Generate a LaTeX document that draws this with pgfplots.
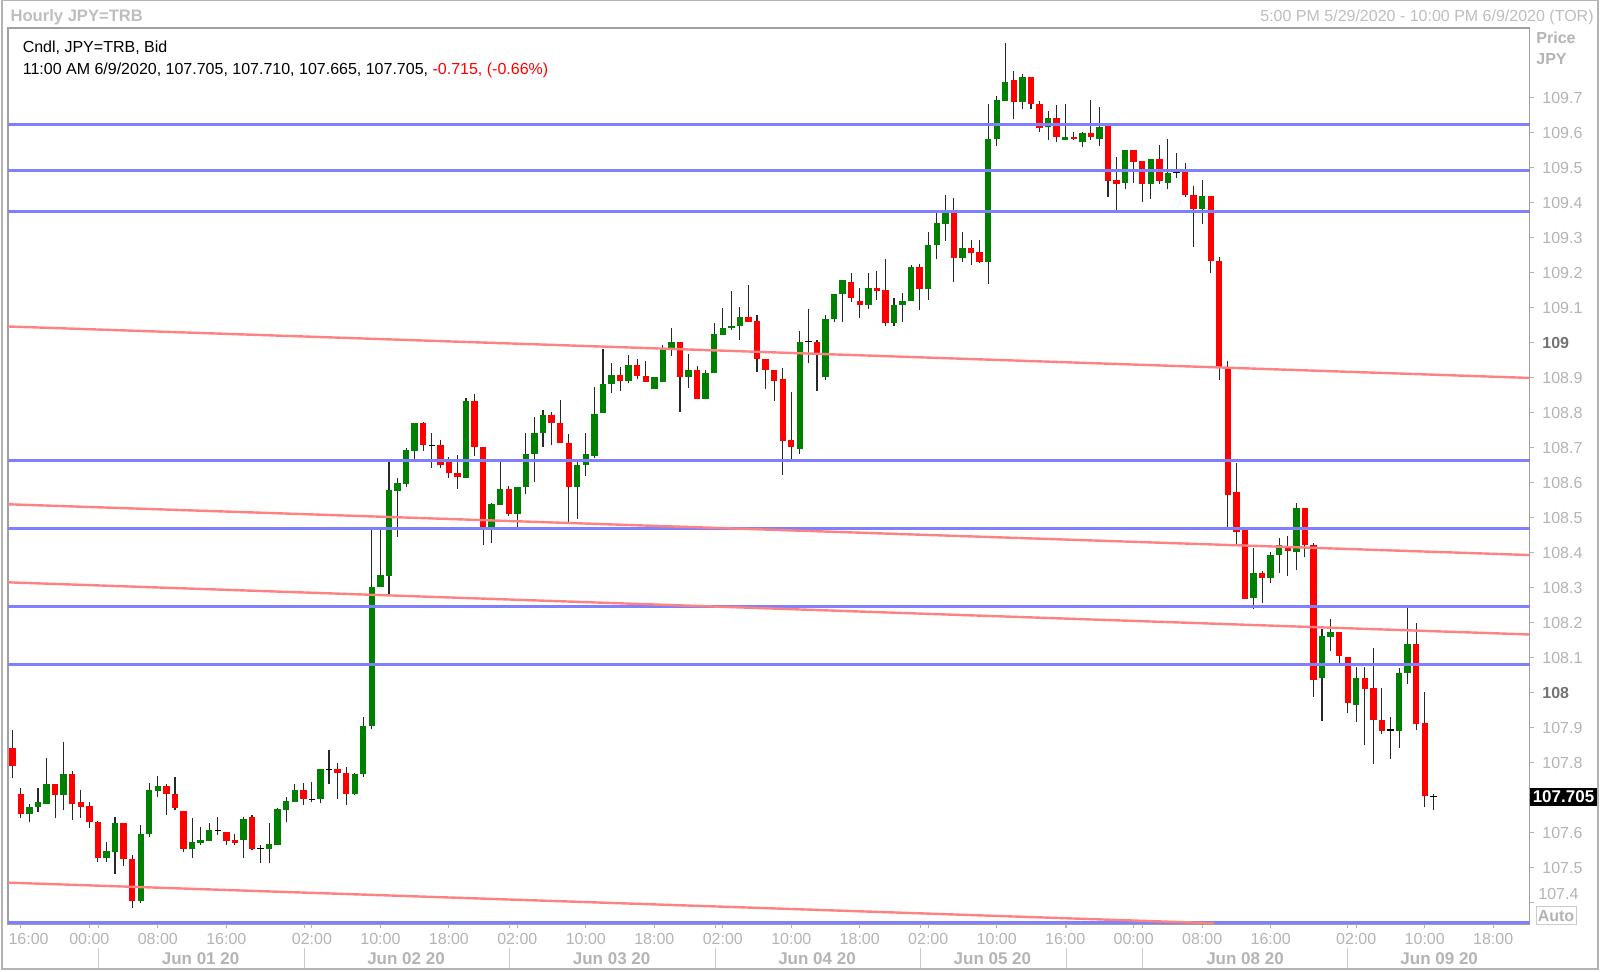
\documentclass[border=0pt]{standalone}
\usepackage{pgfplots}
\pgfplotsset{compat=1.18}
\usepackage{fontspec}
\setmainfont{Liberation Sans}
\definecolor{cgreen}{RGB}{0,128,0}
\definecolor{cred}{RGB}{255,0,0}
\definecolor{wick}{RGB}{40,40,40}
\definecolor{hblue}{RGB}{128,128,255}
\definecolor{hred}{RGB}{255,130,130}
\definecolor{lbl}{RGB}{180,180,180}
\definecolor{lbldark}{RGB}{115,115,115}
\definecolor{framec}{RGB}{160,160,160}
\definecolor{titlegray}{RGB}{190,190,190}

\begin{document}
\begin{tikzpicture}
\useasboundingbox (0pt,0pt) rectangle (800pt,486pt);
\fill[white] (0pt,0pt) rectangle (800pt,486pt);
\draw[framec!80, line width=0.6pt] (1pt,1.5pt) rectangle (799pt,485.7pt);

\begin{axis}[
  at={(4.1pt,23.85pt)}, anchor=south west,
  width=760.65pt, height=448pt, scale only axis,
  xmin=-0.48, xmax=177.24, ymin=107.339, ymax=109.899,
  clip=false,
  unbounded coords=jump,
  axis line style={draw=framec, line width=0.8pt},
  xtick={1,9,17,25,35,43,51,59,67,75,83,91,99,107,115,123,131,139,147,157,165,173},
  xticklabels={\hspace*{7.7pt}16:00,00:00,08:00,16:00,02:00,10:00,18:00,02:00,10:00,18:00,02:00,10:00,18:00,02:00,10:00,16:00,00:00,08:00,16:00,02:00,10:00,18:00},
  extra x ticks={10.1,34.1,58.1,82.1,106.1,123.1,132.0,156.0},
  extra x tick labels={},
  xtick pos=left,
  xtick style={draw=lbl, line width=0.5pt},
  xticklabel style={font=\fontsize{8}{9}\selectfont, text=lbl, anchor=base, inner sep=0pt, yshift=-8.3pt},
  ytick={107.4,107.5,107.6,107.7,107.8,107.9,108,108.1,108.2,108.3,108.4,108.5,108.6,108.7,108.8,108.9,109,109.1,109.2,109.3,109.4,109.5,109.6,109.7},
  yticklabels={{},107.5,107.6,{},107.8,107.9,{\color{lbldark}\bfseries 108},108.1,108.2,108.3,108.4,108.5,108.6,108.7,108.8,108.9,{\color{lbldark}\bfseries 109},109.1,109.2,109.3,109.4,109.5,109.6,109.7},
  ytick pos=right, yticklabel pos=right,
  tick align=outside, major tick length=2pt,
  ytick style={draw=lbl, line width=0.5pt},
  yticklabel style={font=\fontsize{8}{9}\selectfont, text=lbl, anchor=west, inner sep=0pt, xshift=4.25pt},
]
% ---- wicks: (bar, low) (bar, high) per candle
\addplot[wick, line width=0.55pt, mark=none] coordinates {
(0,107.756)(0,107.894)(0,nan) (1,107.642)(1,107.727)(1,nan) (2,107.630)(2,107.682)(2,nan)
(3,107.661)(3,107.727)(3,nan) (4,107.684)(4,107.813)(4,nan) (5,107.644)(5,107.739)(5,nan)
(6,107.665)(6,107.859)(6,nan) (7,107.636)(7,107.777)(7,nan) (8,107.644)(8,107.722)(8,nan)
(9,107.613)(9,107.687)(9,nan) (10,107.518)(10,107.634)(10,nan) (11,107.518)(11,107.573)(11,nan)
(12,107.483)(12,107.646)(12,nan) (13,107.506)(13,107.627)(13,nan) (14,107.386)(14,107.537)(14,nan)
(15,107.399)(15,107.623)(15,nan) (16,107.589)(16,107.742)(16,nan) (17,107.702)(17,107.762)(17,nan)
(18,107.651)(18,107.739)(18,nan) (19,107.665)(19,107.759)(19,nan) (20,107.546)(20,107.662)(20,nan)
(21,107.529)(21,107.644)(21,nan) (22,107.565)(22,107.618)(22,nan) (23,107.576)(23,107.627)(23,nan)
(24,107.594)(24,107.646)(24,nan) (25,107.565)(25,107.604)(25,nan) (26,107.565)(26,107.597)(26,nan)
(27,107.529)(27,107.646)(27,nan) (28,107.551)(28,107.651)(28,nan) (29,107.513)(29,107.565)(29,nan)
(30,107.513)(30,107.627)(30,nan) (31,107.565)(31,107.670)(31,nan) (32,107.630)(32,107.702)(32,nan)
(33,107.689)(33,107.740)(33,nan) (34,107.680)(34,107.742)(34,nan) (35,107.689)(35,107.745)(35,nan)
(36,107.685)(36,107.782)(36,nan) (37,107.740)(37,107.837)(37,nan) (38,107.696)(38,107.799)(38,nan)
(39,107.680)(39,107.789)(39,nan) (40,107.708)(40,107.770)(40,nan) (41,107.761)(41,107.932)(41,nan)
(42,107.896)(42,108.465)(42,nan) (43,108.304)(43,108.465)(43,nan) (44,108.283)(44,108.664)(44,nan)
(45,108.446)(45,108.615)(45,nan) (46,108.587)(46,108.699)(46,nan) (47,108.668)(47,108.770)(47,nan)
(48,108.692)(48,108.775)(48,nan) (49,108.642)(49,108.744)(49,nan) (50,108.642)(50,108.723)(50,nan)
(51,108.613)(51,108.673)(51,nan) (52,108.583)(52,108.680)(52,nan) (53,108.613)(53,108.842)(53,nan)
(54,108.677)(54,108.854)(54,nan) (55,108.423)(55,108.704)(55,nan) (56,108.427)(56,108.543)(56,nan)
(57,108.537)(57,108.663)(57,nan) (58,108.505)(58,108.591)(58,nan) (59,108.475)(59,108.589)(59,nan)
(60,108.567)(60,108.742)(60,nan) (61,108.604)(61,108.789)(61,nan) (62,108.704)(62,108.808)(62,nan)
(63,108.708)(63,108.804)(63,nan) (64,108.715)(64,108.837)(64,nan) (65,108.489)(65,108.740)(65,nan)
(66,108.496)(66,108.661)(66,nan) (67,108.621)(67,108.744)(67,nan) (68,108.670)(68,108.873)(68,nan)
(69,108.799)(69,108.984)(69,nan) (70,108.858)(70,108.943)(70,nan) (71,108.864)(71,108.930)(71,nan)
(72,108.886)(72,108.965)(72,nan) (73,108.897)(73,108.954)(73,nan) (74,108.887)(74,108.949)(74,nan)
(75,108.868)(75,108.903)(75,nan) (76,108.887)(76,108.994)(76,nan) (77,108.963)(77,109.044)(77,nan)
(78,108.802)(78,109.004)(78,nan) (79,108.870)(79,108.968)(79,nan) (80,108.839)(80,108.934)(80,nan)
(81,108.839)(81,108.924)(81,nan) (82,108.913)(82,109.056)(82,nan) (83,109.024)(83,109.099)(83,nan)
(84,109.037)(84,109.149)(84,nan) (85,109.008)(85,109.104)(85,nan) (86,109.061)(86,109.165)(86,nan)
(87,108.918)(87,109.080)(87,nan) (88,108.868)(88,108.953)(88,nan) (89,108.834)(89,108.924)(89,nan)
(90,108.623)(90,108.927)(90,nan) (91,108.665)(91,108.859)(91,nan) (92,108.684)(92,109.035)(92,nan)
(93,108.942)(93,109.096)(93,nan) (94,108.863)(94,109.008)(94,nan) (95,108.893)(95,109.080)(95,nan)
(96,109.061)(96,109.140)(96,nan) (97,109.061)(97,109.180)(97,nan) (98,109.118)(98,109.199)(98,nan)
(99,109.072)(99,109.156)(99,nan) (100,109.096)(100,109.199)(100,nan) (101,109.123)(101,109.205)(101,nan)
(102,109.048)(102,109.240)(102,nan) (103,109.048)(103,109.129)(103,nan) (104,109.061)(104,109.144)(104,nan)
(105,109.120)(105,109.223)(105,nan) (106,109.094)(106,109.225)(106,nan) (107,109.124)(107,109.316)(107,nan)
(108,109.239)(108,109.372)(108,nan) (109,109.292)(109,109.424)(109,nan) (110,109.173)(110,109.413)(110,nan)
(111,109.232)(111,109.316)(111,nan) (112,109.223)(112,109.294)(112,nan) (113,109.227)(113,109.294)(113,nan)
(114,109.167)(114,109.682)(114,nan) (115,109.563)(115,109.705)(115,nan) (116,109.692)(116,109.856)(116,nan)
(117,109.639)(117,109.777)(117,nan) (118,109.667)(118,109.767)(118,nan) (119,109.667)(119,109.759)(119,nan)
(120,109.603)(120,109.691)(120,nan) (121,109.580)(121,109.662)(121,nan) (122,109.573)(122,109.680)(122,nan)
(123,109.580)(123,109.684)(123,nan) (124,109.580)(124,109.604)(124,nan) (125,109.559)(125,109.604)(125,nan)
(126,109.580)(126,109.694)(126,nan) (127,109.564)(127,109.675)(127,nan) (128,109.418)(128,109.620)(128,nan)
(129,109.378)(129,109.530)(129,nan) (130,109.439)(130,109.551)(130,nan) (131,109.458)(131,109.551)(131,nan)
(132,109.403)(132,109.520)(132,nan) (133,109.410)(133,109.525)(133,nan) (134,109.453)(134,109.565)(134,nan)
(135,109.439)(135,109.584)(135,nan) (136,109.470)(136,109.544)(136,nan) (137,109.418)(137,109.515)(137,nan)
(138,109.273)(138,109.449)(138,nan) (139,109.339)(139,109.465)(139,nan) (140,109.199)(140,109.421)(140,nan)
(141,108.894)(141,109.246)(141,nan) (142,108.470)(142,108.949)(142,nan) (143,108.423)(143,108.658)(143,nan)
(144,108.267)(144,108.465)(144,nan) (145,108.239)(145,108.415)(145,nan) (146,108.256)(146,108.348)(146,nan)
(147,108.315)(147,108.402)(147,nan) (148,108.342)(148,108.443)(148,nan) (149,108.335)(149,108.448)(149,nan)
(150,108.351)(150,108.544)(150,nan) (151,108.387)(151,108.527)(151,nan) (152,107.989)(152,108.427)(152,nan)
(153,107.921)(153,108.182)(153,nan) (154,108.120)(154,108.210)(154,nan) (155,108.084)(155,108.173)(155,nan)
(156,107.942)(156,108.104)(156,nan) (157,107.916)(157,108.073)(157,nan) (158,107.851)(158,108.073)(158,nan)
(159,107.797)(159,108.127)(159,nan) (160,107.882)(160,108.013)(160,nan) (161,107.810)(161,107.930)(161,nan)
(162,107.842)(162,108.072)(162,nan) (163,108.025)(163,108.246)(163,nan) (164,107.894)(164,108.199)(164,nan)
(165,107.673)(165,108.002)(165,nan) (166,107.665)(166,107.710)(166,nan)
};
% ---- rising candles: (bar, open) (bar, close)
\addplot[cgreen, line width=3.2pt, line cap=butt, mark=none] coordinates {
(2,107.655)(2,107.675)(2,nan) (3,107.675)(3,107.687)(3,nan) (4,107.684)(4,107.739)(4,nan)
(6,107.708)(6,107.768)(6,nan) (11,107.529)(11,107.548)(11,nan) (12,107.546)(12,107.627)(12,nan)
(15,107.405)(15,107.597)(15,nan) (16,107.596)(16,107.722)(16,nan) (17,107.720)(17,107.734)(17,nan)
(21,107.553)(21,107.574)(21,nan) (22,107.572)(22,107.580)(22,nan) (23,107.576)(23,107.608)(23,nan)
(27,107.580)(27,107.639)(27,nan) (30,107.553)(30,107.567)(30,nan) (31,107.565)(31,107.667)(31,nan)
(32,107.665)(32,107.692)(32,nan) (33,107.689)(33,107.723)(33,nan) (36,107.696)(36,107.782)(36,nan)
(40,107.710)(40,107.768)(40,nan) (41,107.767)(41,107.906)(41,nan) (42,107.906)(42,108.304)(42,nan)
(43,108.304)(43,108.337)(43,nan) (44,108.335)(44,108.580)(44,nan) (45,108.578)(45,108.599)(45,nan)
(46,108.597)(46,108.694)(46,nan) (47,108.692)(47,108.770)(47,nan) (53,108.613)(53,108.835)(53,nan)
(56,108.475)(56,108.539)(56,nan) (57,108.537)(57,108.584)(57,nan) (59,108.510)(59,108.589)(59,nan)
(60,108.589)(60,108.684)(60,nan) (61,108.684)(61,108.744)(61,nan) (62,108.744)(62,108.794)(62,nan)
(66,108.587)(66,108.651)(66,nan) (67,108.651)(67,108.684)(67,nan) (68,108.677)(68,108.798)(68,nan)
(69,108.799)(69,108.883)(69,nan) (70,108.883)(70,108.908)(70,nan) (72,108.892)(72,108.937)(72,nan)
(75,108.868)(75,108.903)(75,nan) (76,108.887)(76,108.983)(76,nan) (77,108.983)(77,109.004)(77,nan)
(79,108.904)(79,108.924)(79,nan) (81,108.839)(81,108.913)(81,nan) (82,108.913)(82,109.025)(82,nan)
(83,109.024)(83,109.043)(83,nan) (84,109.043)(84,109.049)(84,nan) (85,109.048)(85,109.075)(85,nan)
(92,108.697)(92,109.004)(92,nan) (95,108.903)(95,109.067)(95,nan) (96,109.067)(96,109.140)(96,nan)
(97,109.140)(97,109.180)(97,nan) (100,109.108)(100,109.156)(100,nan) (103,109.058)(103,109.108)(103,nan)
(104,109.108)(104,109.120)(104,nan) (105,109.120)(105,109.216)(105,nan) (107,109.154)(107,109.280)(107,nan)
(108,109.280)(108,109.342)(108,nan) (109,109.340)(109,109.372)(109,nan) (111,109.244)(111,109.270)(111,nan)
(114,109.232)(114,109.584)(114,nan) (115,109.584)(115,109.694)(115,nan) (116,109.692)(116,109.746)(116,nan)
(118,109.689)(118,109.759)(118,nan) (121,109.616)(121,109.644)(121,nan) (123,109.580)(123,109.589)(123,nan)
(125,109.573)(125,109.599)(125,nan) (127,109.583)(127,109.618)(127,nan) (130,109.458)(130,109.551)(130,nan)
(133,109.453)(133,109.525)(133,nan) (135,109.458)(135,109.486)(135,nan) (139,109.383)(139,109.421)(139,nan)
(145,108.272)(145,108.343)(145,nan) (147,108.327)(147,108.394)(147,nan) (148,108.394)(148,108.424)(148,nan)
(150,108.402)(150,108.527)(150,nan) (153,108.042)(153,108.163)(153,nan) (154,108.161)(154,108.173)(154,nan)
(157,107.965)(157,108.042)(157,nan) (162,107.892)(162,108.056)(162,nan) (163,108.056)(163,108.139)(163,nan)
};
% ---- falling candles: (bar, open) (bar, close)
\addplot[cred, line width=3.2pt, line cap=butt, mark=none] coordinates {
(0,107.842)(0,107.791)(0,nan) (1,107.710)(1,107.655)(1,nan) (5,107.739)(5,107.708)(5,nan)
(7,107.768)(7,107.684)(7,nan) (8,107.687)(8,107.674)(8,nan) (9,107.677)(9,107.630)(9,nan)
(10,107.632)(10,107.529)(10,nan) (13,107.627)(13,107.525)(13,nan) (14,107.525)(14,107.405)(14,nan)
(18,107.734)(18,107.710)(18,nan) (19,107.712)(19,107.670)(19,nan) (20,107.662)(20,107.553)(20,nan)
(25,107.604)(25,107.577)(25,nan) (26,107.580)(26,107.572)(26,nan) (28,107.646)(28,107.553)(28,nan)
(34,107.723)(34,107.696)(34,nan) (38,107.782)(38,107.770)(38,nan) (39,107.772)(39,107.710)(39,nan)
(48,108.770)(48,108.708)(48,nan) (50,108.708)(50,108.651)(50,nan) (51,108.663)(51,108.627)(51,nan)
(52,108.627)(52,108.618)(52,nan) (54,108.835)(54,108.704)(54,nan) (55,108.704)(55,108.475)(55,nan)
(58,108.584)(58,108.510)(58,nan) (63,108.794)(63,108.770)(63,nan) (64,108.770)(64,108.715)(64,nan)
(65,108.715)(65,108.587)(65,nan) (71,108.908)(71,108.892)(71,nan) (73,108.937)(73,108.906)(73,nan)
(74,108.906)(74,108.887)(74,nan) (78,109.004)(78,108.904)(78,nan) (80,108.924)(80,108.839)(80,nan)
(86,109.075)(86,109.061)(86,nan) (87,109.064)(87,108.953)(87,nan) (88,108.953)(88,108.923)(88,nan)
(89,108.924)(89,108.892)(89,nan) (90,108.896)(90,108.721)(90,nan) (91,108.723)(91,108.702)(91,nan)
(94,109.004)(94,108.965)(94,nan) (98,109.175)(98,109.127)(98,nan) (99,109.120)(99,109.108)(99,nan)
(101,109.156)(101,109.149)(101,nan) (102,109.151)(102,109.058)(102,nan) (106,109.216)(106,109.154)(106,nan)
(110,109.372)(110,109.244)(110,nan) (112,109.270)(112,109.258)(112,nan) (113,109.259)(113,109.232)(113,nan)
(117,109.751)(117,109.689)(117,nan) (119,109.759)(119,109.684)(119,nan) (120,109.684)(120,109.613)(120,nan)
(122,109.644)(122,109.589)(122,nan) (124,109.589)(124,109.583)(124,nan) (126,109.599)(126,109.589)(126,nan)
(128,109.620)(128,109.463)(128,nan) (129,109.465)(129,109.453)(129,nan) (131,109.551)(131,109.518)(131,nan)
(132,109.520)(132,109.453)(132,nan) (134,109.525)(134,109.463)(134,nan) (137,109.487)(137,109.424)(137,nan)
(138,109.424)(138,109.383)(138,nan) (140,109.421)(140,109.234)(140,nan) (141,109.234)(141,108.932)(141,nan)
(142,108.927)(142,108.565)(142,nan) (143,108.573)(143,108.461)(143,nan) (144,108.465)(144,108.267)(144,nan)
(146,108.343)(146,108.327)(146,nan) (149,108.413)(149,108.405)(149,nan) (151,108.527)(151,108.423)(151,nan)
(152,108.424)(152,108.036)(152,nan) (155,108.173)(155,108.106)(155,nan) (156,108.104)(156,107.970)(156,nan)
(158,108.042)(158,108.011)(158,nan) (159,108.013)(159,107.923)(159,nan) (160,107.923)(160,107.892)(160,nan)
(164,108.139)(164,107.911)(164,nan) (165,107.913)(165,107.705)(165,nan)
};
% ---- doji candles (open = close)
\addplot[only marks, mark=-, mark size=1.6pt, mark options={draw=black, line width=0.6pt}] coordinates {
(24,107.607) (29,107.556) (35,107.696) (37,107.782) (49,108.708) (93,109.004) (136,109.486) (161,107.894) (166,107.705)
};

% horizontal levels
\addplot[hblue, line width=1.5pt] coordinates {(-0.48,109.623) (177.24,109.623)};
\addplot[hblue, line width=1.5pt] coordinates {(-0.48,109.492) (177.24,109.492)};
\addplot[hblue, line width=1.5pt] coordinates {(-0.48,109.375) (177.24,109.375)};
\addplot[hblue, line width=1.5pt] coordinates {(-0.48,108.665) (177.24,108.665)};
\addplot[hblue, line width=1.5pt] coordinates {(-0.48,108.469) (177.24,108.469)};
\addplot[hblue, line width=1.5pt] coordinates {(-0.48,108.248) (177.24,108.248)};
\addplot[hblue, line width=1.5pt] coordinates {(-0.48,108.082) (177.24,108.082)};
\addplot[hblue, line width=1.5pt] coordinates {(-0.48,107.344) (177.24,107.344)};
% sloped trend lines
\addplot[hred, line width=1.2pt] coordinates {(-0.48,109.047) (177.24,108.900)};
\addplot[hred, line width=1.2pt] coordinates {(-0.48,108.539) (177.24,108.394)};
\addplot[hred, line width=1.2pt] coordinates {(-0.48,108.316) (177.24,108.167)};
\addplot[hred, line width=1.2pt] coordinates {(-0.48,107.458) (140.4,107.342)};
\end{axis}

% date row separators and labels
\foreach \sx in {49.38,152.1,254.8,357.5,460.3,533.0,571.1,673.8}{
  \draw[lbl!70, line width=0.5pt] (\sx pt,2pt) -- (\sx pt,12pt);
}
\foreach \dx/\dt in {100.3/Jun 01 20,203.0/Jun 02 20,305.8/Jun 03 20,408.5/Jun 04 20,496.2/Jun 05 20,622.5/Jun 08 20,719.6/Jun 09 20}{
  \node[anchor=base, inner sep=0pt, font=\bfseries\fontsize{8.5}{9}\selectfont, text=lbl] at (\dx pt,3.6pt) {\dt};
}
\node[anchor=base west, inner sep=0pt, font=\fontsize{8}{9}\selectfont, text=lbl] at (769pt,36.1pt) {107.4};

% header texts
\node[anchor=base west, inner sep=0pt, font=\bfseries\fontsize{8.3}{10}\selectfont, text=titlegray] at (5.1pt,475.45pt) {Hourly JPY=TRB};
\node[anchor=base east, inner sep=0pt, font=\fontsize{8}{10}\selectfont, text=titlegray] at (797pt,475.45pt) {5:00 PM 5/29/2020 - 10:00 PM 6/9/2020 (TOR)};
\node[anchor=base west, inner sep=0pt, font=\fontsize{8}{10}\selectfont] at (11.2pt,459.6pt) {Cndl, JPY=TRB, Bid};
\node[anchor=base west, inner sep=0pt, font=\fontsize{8}{10}\selectfont] at (11.2pt,448.9pt) {11:00 AM 6/9/2020, 107.705, 107.710, 107.665, 107.705, \textcolor{cred}{-0.715, (-0.66\%)}};
\node[anchor=base west, inner sep=0pt, font=\bfseries\fontsize{8}{10}\selectfont, text=lbl] at (768pt,464.1pt) {Price};
\node[anchor=base west, inner sep=0pt, font=\bfseries\fontsize{8}{10}\selectfont, text=lbl] at (768pt,453.6pt) {JPY};
% last price box
\node[fill=black, text=white, inner sep=0pt, minimum width=33.5pt, minimum height=9pt, font=\bfseries\fontsize{8.5}{9}\selectfont] at (781.75pt,87.5pt) {107.705};
% auto box
\node[draw=lbl!70, line width=0.5pt, text=lbl, inner sep=0pt, minimum width=20pt, minimum height=9pt, font=\bfseries\fontsize{8}{9}\selectfont] at (778pt,28.15pt) {Auto};
\end{tikzpicture}
\end{document}
